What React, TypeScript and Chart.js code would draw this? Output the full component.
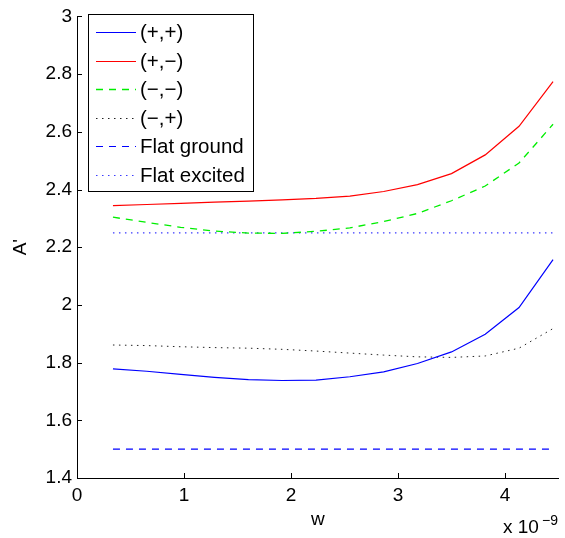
import React, { useEffect, useRef } from "react";
import { Chart, registerables } from "chart.js";

Chart.register(...registerables);

// w values in units of 1e-9
const wValues = [0.336, 0.652, 0.969, 1.285, 1.602, 1.918, 2.234, 2.55, 2.866, 3.182, 3.5, 3.815, 4.131, 4.449];
const plusPlus = [1.778, 1.770, 1.759, 1.749, 1.741, 1.738, 1.739, 1.751, 1.768, 1.797, 1.837, 1.898, 1.991, 2.157];
const plusMinus = [2.344, 2.348, 2.352, 2.356, 2.360, 2.364, 2.369, 2.377, 2.393, 2.417, 2.455, 2.520, 2.619, 2.774];
const minusMinus = [2.304, 2.286, 2.269, 2.256, 2.249, 2.248, 2.255, 2.267, 2.289, 2.317, 2.361, 2.412, 2.492, 2.626];
const minusPlus = [1.861, 1.859, 1.855, 1.852, 1.850, 1.846, 1.840, 1.833, 1.826, 1.820, 1.818, 1.823, 1.850, 1.918];
const flatGroundW = [0.336, 4.449];
const flatGround = [1.5, 1.5];
const flatExcitedW = [0.336, 4.449];
const flatExcited = [2.25, 2.25];

const seriesLabels = ["(+,+)", "(+,\u2212)", "(\u2212,\u2212)", "(\u2212,+)", "Flat ground", "Flat excited"];
const seriesColors = ["#0000ff", "#ff0000", "#00ee00", "#222222", "#0000ff", "#3a3aff"];
const seriesDashes: number[][] = [[], [], [7, 6], [1.5, 4.5], [7, 6], [1.5, 4.5]];
const seriesWidths = [1.2, 1.2, 1.3, 1, 1.2, 1.2];
const xTickStep = 1;
const yTickStep = 0.2;
const xAxisTitle = "w";
const yAxisTitle = "A'";
const xExponentBase = "x 10";
const xExponent = "\u22129";

const FONT = "'Liberation Sans', Arial, Helvetica, sans-serif";

function pts(xs: number[], ys: number[]) {
  return xs.map((x, i) => ({ x, y: ys[i] }));
}

const decorPlugin = {
  id: "decor",
  afterDraw(chart: any) {
    const ctx = chart.ctx as CanvasRenderingContext2D;
    const xs = chart.scales.x;
    const ys = chart.scales.y;
    const area = chart.chartArea;
    ctx.save();
    // inward tick marks
    ctx.strokeStyle = "#000";
    ctx.lineWidth = 1;
    ctx.setLineDash([]);
    ctx.beginPath();
    ys.ticks.forEach((t: any) => {
      const py = Math.round(ys.getPixelForValue(t.value)) + 0.5;
      ctx.moveTo(area.left, py);
      ctx.lineTo(area.left + 5, py);
    });
    xs.ticks.forEach((t: any) => {
      const px = Math.round(xs.getPixelForValue(t.value)) + 0.5;
      ctx.moveTo(px, area.bottom);
      ctx.lineTo(px, area.bottom - 5);
    });
    ctx.stroke();

    // axis titles
    ctx.fillStyle = "#000";
    ctx.font = `19px ${FONT}`;
    ctx.textAlign = "center";
    ctx.textBaseline = "alphabetic";
    ctx.fillText(xAxisTitle, (area.left + area.right) / 2, 525);
    ctx.save();
    ctx.translate(26, (area.top + area.bottom) / 2);
    ctx.rotate(-Math.PI / 2);
    ctx.fillText(yAxisTitle, 0, 0);
    ctx.restore();

    // exponent label
    ctx.textAlign = "left";
    ctx.font = `19px ${FONT}`;
    ctx.fillText(xExponentBase, 503, 533);
    ctx.font = `14px ${FONT}`;
    ctx.fillText(xExponent, 542, 525);

    // legend
    const bx = 88.5, by = 14.5, bw = 165, bh = 177;
    ctx.fillStyle = "#fff";
    ctx.fillRect(bx, by, bw, bh);
    ctx.strokeStyle = "#000";
    ctx.lineWidth = 1;
    ctx.strokeRect(bx, by, bw, bh);
    const rowY0 = 32;
    const rowStep = 28.6;
    ctx.font = `20.5px ${FONT}`;
    ctx.textBaseline = "middle";
    seriesLabels.forEach((label, i) => {
      const ry = Math.round(rowY0 + i * rowStep) + 0.5;
      ctx.strokeStyle = seriesColors[i];
      ctx.lineWidth = seriesWidths[i];
      ctx.setLineDash(seriesDashes[i]);
      ctx.beginPath();
      ctx.moveTo(96, ry);
      ctx.lineTo(136, ry);
      ctx.stroke();
      ctx.fillStyle = "#000";
      ctx.fillText(label, 140, ry + 1);
    });
    ctx.restore();
  },
};

export default function App() {
  const ref = useRef<HTMLCanvasElement | null>(null);
  useEffect(() => {
    if (!ref.current) return;
    Chart.defaults.font.family = FONT;
    const seriesData = [
      pts(wValues, plusPlus),
      pts(wValues, plusMinus),
      pts(wValues, minusMinus),
      pts(wValues, minusPlus),
      pts(flatGroundW, flatGround),
      pts(flatExcitedW, flatExcited),
    ];
    const chart = new Chart(ref.current, {
      type: "line",
      data: {
        datasets: seriesData.map((data, i) => ({
          label: seriesLabels[i],
          data,
          borderColor: seriesColors[i],
          borderWidth: seriesWidths[i],
          borderDash: seriesDashes[i],
          pointRadius: 0,
          tension: 0,
          fill: false,
        })),
      },
      options: {
        animation: false,
        responsive: false,
        maintainAspectRatio: false,
        layout: { padding: { top: 12, right: 6.5, left: 0, bottom: 0 } },
        plugins: { legend: { display: false }, tooltip: { enabled: false } },
        scales: {
          x: {
            type: "linear",
            min: 0,
            max: 4.5,
            afterFit: (s: any) => { s.height = 60; },
            ticks: { stepSize: xTickStep, includeBounds: false, padding: 6, color: "#000", font: { size: 19 }, maxRotation: 0, autoSkip: false },
            grid: { drawOnChartArea: false, drawTicks: false },
            border: { display: true, color: "#000", width: 1 },
          },
          y: {
            type: "linear",
            min: 1.4,
            max: 3,
            afterFit: (s: any) => { s.width = 77; },
            ticks: {
              stepSize: yTickStep,
              padding: 5,
              color: "#000",
              font: { size: 19 },
              autoSkip: false,
              callback: (v: any) => String(Math.round(Number(v) * 10) / 10),
            },
            grid: { drawOnChartArea: false, drawTicks: false },
            border: { display: true, color: "#000", width: 1 },
          },
        },
      },
      plugins: [decorPlugin],
    });
    return () => chart.destroy();
  }, []);
  return (
    <div style={{ position: "fixed", left: 0, top: 0, width: 565, height: 538, background: "#fff" }}>
      <canvas ref={ref} width={565} height={538} style={{ width: 565, height: 538 }} />
    </div>
  );
}
